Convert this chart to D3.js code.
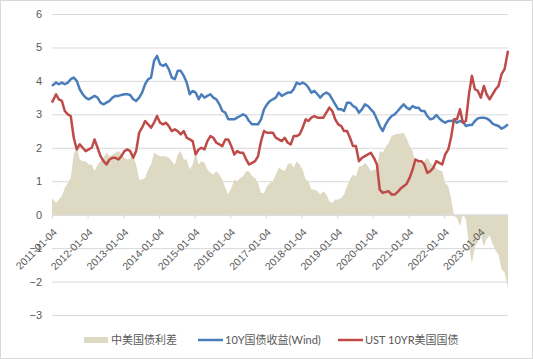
<!DOCTYPE html>
<html>
<head>
<meta charset="utf-8">
<script src="https://cdn.jsdelivr.net/npm/d3@7"></script>
<style>
  body { margin: 0; background: #fff; }
  svg  { display: block; font-family: Lato, "Noto Sans CJK SC", sans-serif; }
</style>
</head>
<body>
<svg id="chart" width="533" height="359"></svg>
<script>
// ---- data (monthly readings, %) ----
const cn10y = [
  3.85, 3.95, 3.9, 3.95, 3.9, 3.95, 4.05, 4.1, 4.0, 3.75, 3.6, 3.5,
  3.45, 3.5, 3.55, 3.5, 3.35, 3.3, 3.35, 3.4, 3.5, 3.55, 3.55, 3.58,
  3.6, 3.6, 3.58, 3.45, 3.4, 3.5, 3.65, 3.9, 4.05, 4.1, 4.6, 4.75,
  4.5, 4.45, 4.5, 4.35, 4.1, 4.05, 4.3, 4.3, 4.15, 3.95, 3.6, 3.7,
  3.65, 3.45, 3.6, 3.5, 3.55, 3.6, 3.5, 3.45, 3.3, 3.1, 3.05, 2.85,
  2.85, 2.85, 2.9, 2.95, 3.0, 2.95, 2.8, 2.7, 2.7, 2.7, 2.85, 3.15,
  3.3, 3.4, 3.45, 3.5, 3.65, 3.55, 3.6, 3.65, 3.65, 3.75, 3.95, 3.9,
  3.95, 3.9, 3.8, 3.65, 3.7, 3.6, 3.5, 3.6, 3.65, 3.6, 3.45, 3.3,
  3.15, 3.15, 3.1, 3.35, 3.35, 3.25, 3.2, 3.05, 3.15, 3.3, 3.25, 3.15,
  3.05, 2.85, 2.65, 2.5, 2.7, 2.85, 2.95, 3.0, 3.1, 3.2, 3.3, 3.2,
  3.15, 3.25, 3.2, 3.2, 3.1, 3.1, 2.95, 2.85, 2.88, 2.98, 2.88, 2.8,
  2.75, 2.8, 2.8, 2.82, 2.75, 2.8, 2.78, 2.65, 2.68, 2.68, 2.8, 2.88,
  2.9, 2.9, 2.88, 2.82, 2.72, 2.68, 2.65, 2.57, 2.62, 2.7
];
const ust10y = [
  3.35, 3.6, 3.45, 3.4, 3.1, 3.0, 2.95, 2.3, 1.95, 2.1, 2.0, 1.9,
  1.95, 2.0, 2.25, 2.0, 1.75, 1.6, 1.5, 1.65, 1.7, 1.7, 1.65, 1.75,
  1.9, 1.95, 1.9, 1.7, 1.9, 2.45, 2.6, 2.8, 2.7, 2.6, 2.75, 2.95,
  2.75, 2.7, 2.75, 2.65, 2.5, 2.55, 2.5, 2.4, 2.5, 2.3, 2.25, 2.2,
  1.8, 1.95, 2.0, 1.95, 2.2, 2.35, 2.3, 2.15, 2.1, 2.05, 2.25, 2.25,
  2.05, 1.8, 1.9, 1.85, 1.85, 1.65, 1.5, 1.55, 1.6, 1.75, 2.2, 2.5,
  2.45, 2.45, 2.45, 2.3, 2.25, 2.2, 2.3, 2.15, 2.1, 2.35, 2.35, 2.4,
  2.6, 2.85, 2.8, 2.9, 2.95, 2.9, 2.9, 2.9, 3.05, 3.2, 3.1, 2.85,
  2.7, 2.65, 2.5, 2.5, 2.3, 2.05, 2.05, 1.6, 1.7, 1.75, 1.8, 1.85,
  1.7, 1.5, 0.75, 0.65, 0.68, 0.7, 0.6, 0.6, 0.68, 0.78, 0.85, 0.92,
  1.1, 1.35, 1.65, 1.6, 1.6, 1.5, 1.25, 1.3, 1.4, 1.6, 1.55, 1.5,
  1.8, 1.95, 2.3, 2.85, 2.85, 3.15, 2.75, 2.8, 3.6, 4.15, 3.75, 3.7,
  3.5, 3.85, 3.6, 3.45, 3.6, 3.75, 3.85, 4.2, 4.35, 4.9
];
const spread = [
  0.5, 0.35, 0.45, 0.55, 0.8, 0.95, 1.1, 1.8, 2.05, 1.65, 1.6, 1.6,
  1.5, 1.5, 1.3, 1.5, 1.6, 1.7, 1.85, 1.75, 1.8, 1.85, 1.9, 1.83,
  1.7, 1.65, 1.68, 1.75, 1.5, 1.05, 1.05, 1.1, 1.35, 1.5, 1.85, 1.8,
  1.75, 1.75, 1.75, 1.7, 1.6, 1.5, 1.8, 1.9, 1.65, 1.65, 1.35, 1.5,
  1.85, 1.5, 1.6, 1.55, 1.35, 1.25, 1.2, 1.3, 1.2, 1.05, 0.8, 0.6,
  0.8, 1.05, 1.0, 1.1, 1.15, 1.3, 1.3, 1.15, 1.1, 0.95, 0.65, 0.65,
  0.85, 0.95, 1.0, 1.2, 1.4, 1.35, 1.3, 1.5, 1.55, 1.4, 1.6, 1.5,
  1.35, 1.05, 1.0, 0.75, 0.75, 0.7, 0.6, 0.7, 0.6, 0.4, 0.35, 0.45,
  0.45, 0.5, 0.6, 0.85, 1.05, 1.2, 1.15, 1.45, 1.45, 1.55, 1.45, 1.3,
  1.35, 1.35, 1.9, 1.85, 2.02, 2.15, 2.35, 2.4, 2.42, 2.42, 2.45, 2.28,
  2.05, 1.9, 1.55, 1.6, 1.5, 1.6, 1.7, 1.55, 1.48, 1.38, 1.33, 1.3,
  0.95, 0.85, 0.5, -0.03, -0.1, -0.35, 0.03, -0.15, -0.92, -1.47, -0.95, -0.82,
  -0.6, -0.95, -0.72, -0.63, -0.88, -1.07, -1.2, -1.63, -1.73, -2.2
];
const yTicks    = [-3, -2, -1, 0, 1, 2, 3, 4, 5, 6];
const tickYears = [2011, 2012, 2013, 2014, 2015, 2016, 2017, 2018, 2019, 2020, 2021, 2022, 2023];
const seriesNames = ['中美国债利差', '10Y国债收益(Wind)', 'UST 10YR美国国债'];
const colors = { area: '#ddd9c3', cn: '#4a7ebb', us: '#be4b48', grid: '#d9d9d9', text: '#595959' };

// one point per month, pinned to first / last trading day shown
const startDate = new Date(2011, 0, 4), endDate = new Date(2023, 9, 20);
const dates = d3.timeMonth.range(new Date(2011, 0, 1), new Date(2023, 10, 1))
  .map(d => d3.timeDay.offset(d, 14));
dates[0] = startDate;
dates[dates.length - 1] = endDate;

const rows = dates.map((d, i) => ({ date: d, cn: cn10y[i], us: ust10y[i], sp: spread[i] }));

// ---- layout ----
const W = 533, H = 359;
const left = 52, right = 508;
const svg = d3.select('#chart');

svg.append('rect')
  .attr('x', 0.5).attr('y', 0.5).attr('width', W - 1).attr('height', H - 1)
  .attr('fill', '#fff').attr('stroke', colors.grid);

const x = d3.scaleTime().domain([startDate, endDate]).range([left, right]);
const y = d3.scaleLinear().domain([-3, 6]).range([315, 14]);

/* -------- gridlines + y labels -------- */
const yAxisG = svg.append('g')
  .attr('transform', `translate(${left},0)`)
  .call(d3.axisLeft(y).tickValues(yTicks).tickSize(-(right - left)).tickPadding(10).tickFormat(d3.format('d')));
yAxisG.select('.domain').remove();
yAxisG.selectAll('line').attr('stroke', colors.grid);
yAxisG.selectAll('text').attr('fill', colors.text).style('font-size', '11px');

/* -------- series -------- */
svg.append('path').datum(rows)
  .attr('fill', colors.area)
  .attr('d', d3.area().x(d => x(d.date)).y0(y(0)).y1(d => y(d.sp)));

const line = key => d3.line().x(d => x(d.date)).y(d => y(d[key]));
svg.append('path').datum(rows)
  .attr('fill', 'none').attr('stroke', colors.cn).attr('stroke-width', 2.5)
  .attr('stroke-linejoin', 'round').attr('d', line('cn'));
svg.append('path').datum(rows)
  .attr('fill', 'none').attr('stroke', colors.us).attr('stroke-width', 2.5)
  .attr('stroke-linejoin', 'round').attr('d', line('us'));

/* -------- x axis on zero line -------- */
const xTicks = tickYears.map(yr => new Date(yr, 0, 4));
const xAxisG = svg.append('g')
  .attr('transform', `translate(0,${y(0)})`)
  .call(d3.axisBottom(x).tickValues(xTicks).tickSize(4).tickSizeOuter(0).tickFormat(d3.timeFormat('%Y-%m-%d')));
xAxisG.select('.domain').attr('stroke', colors.grid);
xAxisG.selectAll('line').attr('stroke', colors.grid);
xAxisG.selectAll('text')
  .attr('fill', colors.text).style('font-size', '10.5px')
  .attr('text-anchor', 'end')
  .attr('transform', 'translate(0,13) rotate(-45)')
  .attr('dy', '0.7em').attr('y', 0).attr('x', 0);

/* -------- legend -------- */
const legend = svg.append('g').style('font-size', '11px').attr('fill', colors.text);
legend.append('rect').attr('x', 84).attr('y', 337).attr('width', 24).attr('height', 6).attr('fill', colors.area);
legend.append('text').attr('x', 111).attr('y', 344).text(seriesNames[0]);
legend.append('line').attr('x1', 198).attr('x2', 223).attr('y1', 340).attr('y2', 340)
  .attr('stroke', colors.cn).attr('stroke-width', 2.5);
legend.append('text').attr('x', 225).attr('y', 344).text(seriesNames[1]);
legend.append('line').attr('x1', 338).attr('x2', 363).attr('y1', 340).attr('y2', 340)
  .attr('stroke', colors.us).attr('stroke-width', 2.5);
legend.append('text').attr('x', 365).attr('y', 344).text(seriesNames[2]);
</script>
</body>
</html>
